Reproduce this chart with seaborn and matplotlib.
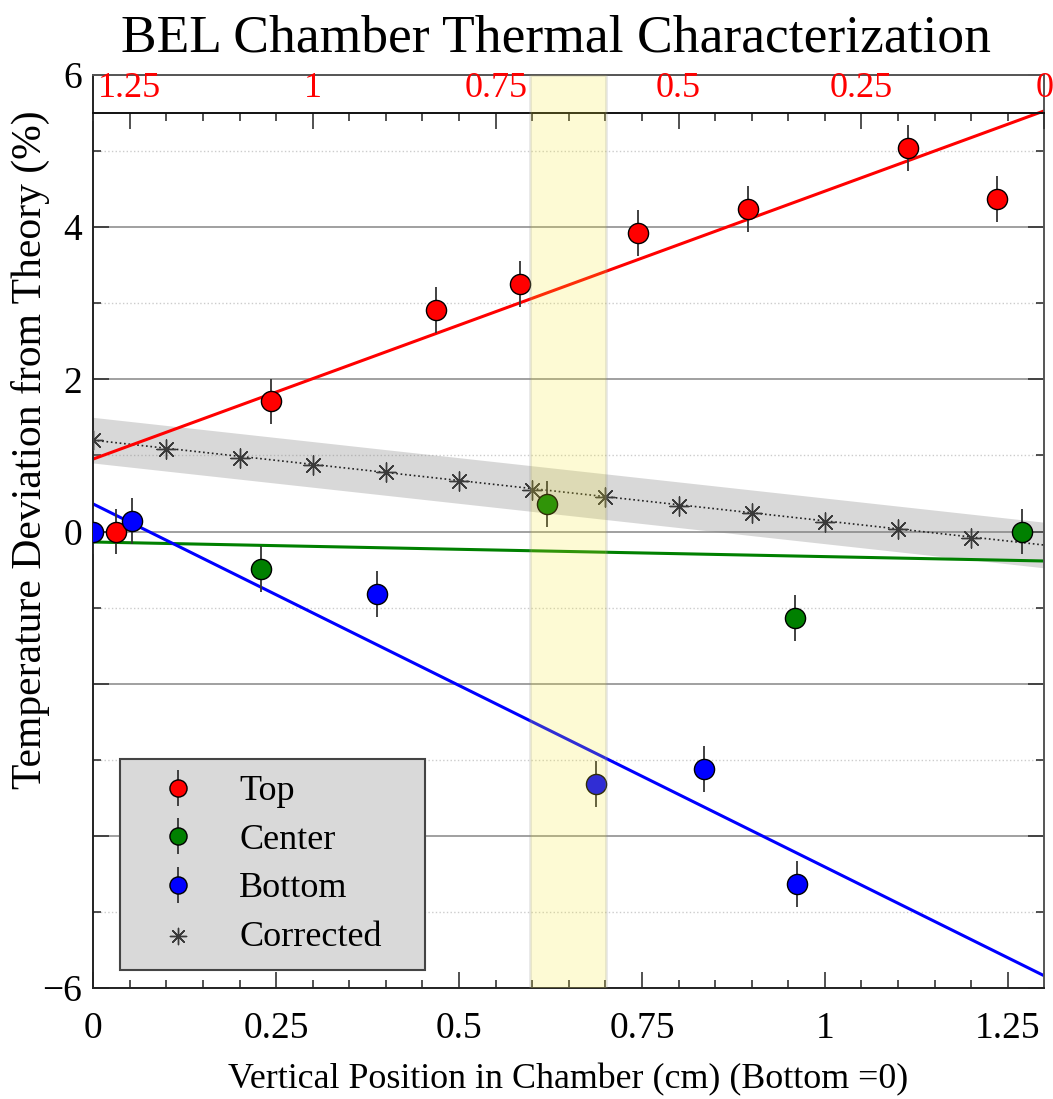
import numpy as np
import pandas as pd
import matplotlib
matplotlib.use("Agg")
import matplotlib.pyplot as plt
from matplotlib.ticker import MultipleLocator, FixedLocator
import seaborn as sns

# ---------------- data ----------------
top_x = [0.031, 0.243, 0.468, 0.583, 0.745, 0.895, 1.114, 1.235]
top_y = [0.00, 1.71, 2.91, 3.25, 3.92, 4.24, 5.04, 4.37]
top_err = [0.3, 0.3, 0.3, 0.3, 0.3, 0.3, 0.3, 0.3]

center_x = [0.229, 0.620, 0.959, 1.270]
center_y = [-0.49, 0.36, -1.14, 0.00]
center_err = [0.3, 0.3, 0.3, 0.3]

bottom_x = [0.000, 0.053, 0.388, 0.687, 0.835, 0.962]
bottom_y = [0.00, 0.14, -0.82, -3.32, -3.12, -4.63]
bottom_err = [0.3, 0.3, 0.3, 0.3, 0.3, 0.3]

corr_x = [0.0, 0.1, 0.2, 0.3, 0.4, 0.5, 0.6, 0.7, 0.8, 0.9, 1.0, 1.1, 1.2]
corr_y = [1.20, 1.09, 0.97, 0.88, 0.78, 0.66, 0.55, 0.46, 0.34, 0.24, 0.13, 0.03, -0.09]

# linear fits: (intercept, slope)
fit_top = (0.953, 3.52)
fit_center = (-0.138, -0.192)
fit_bottom = (0.361, -4.77)
fit_corr = (1.20, -1.06)
corr_band_half = 0.3

highlight = (0.597, 0.701)

x_lim = (0.0, 1.3)
y_lim = (-6.0, 6.0)
top_axis_level = 5.5

x_ticks = [0, 0.25, 0.5, 0.75, 1.0, 1.25]
x_tick_labels = ["0", "0.25", "0.5", "0.75", "1", "1.25"]
top_ticks = [1.25, 1.0, 0.75, 0.5, 0.25, 0.0]
top_tick_labels = ["1.25", "1", "0.75", "0.5", "0.25", "0"]
y_ticks = [-6, -4, -2, 0, 2, 4, 6]
y_tick_labels = ["\u22126", "", "", "0", "2", "4", "6"]

series_names = ["Top", "Center", "Bottom", "Corrected"]

# ---------------- style ----------------
sns.set_style("white")
plt.rcParams['font.family'] = ['Liberation Serif', 'DejaVu Serif']
plt.rcParams['text.color'] = 'black'

W, H = 1053, 1099
fig = plt.figure(figsize=(W / 100, H / 100), dpi=100)
ax = fig.add_axes([93.3 / W, 1 - 988 / H, 951 / W, 913 / H])
ax.set_xlim(*x_lim)
ax.set_ylim(*y_lim)

# grid
ax.set_axisbelow(True)
ax.yaxis.set_major_locator(FixedLocator(y_ticks))
ax.yaxis.set_minor_locator(MultipleLocator(1))
ax.set_yticklabels(y_tick_labels)
ax.grid(axis='y', which='major', color='#999999', lw=1.3, ls='-', zorder=0)
ax.grid(axis='y', which='minor', color='#cccccc', lw=1.0, ls=':', zorder=0)
ax.grid(axis='x', visible=False)

ax.xaxis.set_major_locator(FixedLocator(x_ticks))
ax.set_xticklabels(x_tick_labels)
ax.xaxis.set_minor_locator(MultipleLocator(0.05))

ax.tick_params(axis='both', which='both', direction='in', colors='#333333', width=1.2)
ax.tick_params(axis='both', which='major', length=11.5, labelsize=27, labelcolor='black')
ax.tick_params(axis='both', which='minor', length=6)
ax.tick_params(axis='y', which='both', left=True, right=True, pad=8)
ax.tick_params(axis='x', which='both', bottom=True, top=False, pad=17)

for s in ['left', 'bottom']:
    ax.spines[s].set_color('#222222')
    ax.spines[s].set_linewidth(1.4)
for s in ['top', 'right']:
    ax.spines[s].set_color('#555555')
    ax.spines[s].set_linewidth(1.4)

# corrected band & trend
xb = np.array(x_lim)
yb = fit_corr[0] + fit_corr[1] * xb
ax.fill_between(xb, yb - corr_band_half, yb + corr_band_half, color='gray', alpha=0.3,
                lw=0, zorder=1)
ax.axline((0, fit_corr[0]), slope=fit_corr[1], color='#222222', ls=':', lw=1.2, zorder=2)

# fit lines
ax.axline((0, fit_top[0]), slope=fit_top[1], color='#ff0000', lw=2.2, zorder=2)
ax.axline((0, fit_center[0]), slope=fit_center[1], color='#008000', lw=2.2, zorder=2)
ax.axline((0, fit_bottom[0]), slope=fit_bottom[1], color='#0000ff', lw=2.2, zorder=2)

# data points
ekw = dict(fmt='o', ms=14.5, mec='black', mew=1.0, ecolor='#333333', elinewidth=1.3,
           capsize=0, zorder=4)
h_top = ax.errorbar(top_x, top_y, yerr=top_err, mfc='#ff0000', label=series_names[0], **ekw)
h_cen = ax.errorbar(center_x, center_y, yerr=center_err, mfc='#008000', label=series_names[1], **ekw)
h_bot = ax.errorbar(bottom_x, bottom_y, yerr=bottom_err, mfc='#0000ff', label=series_names[2], **ekw)

corr_df = pd.DataFrame({"x": corr_x, "y": corr_y})
sns.scatterplot(data=corr_df, x="x", y="y", ax=ax, marker=(8, 2, 0), s=190,
                color='#3a3a3a', linewidths=1.0, zorder=3, label=series_names[3], legend=False)
h_corr = ax.collections[-1]

# highlight band (on top)
ax.axvspan(*highlight, facecolor=(0.96, 0.90, 0.16), alpha=0.2, edgecolor=(0.55, 0.55, 0.55, 0.5),
           lw=2, zorder=6)

ax.set_xlabel("")
ax.set_ylabel("")

# top (reversed) axis
ax_top = ax.inset_axes([x_lim[0], y_lim[0], x_lim[1] - x_lim[0], top_axis_level - y_lim[0]],
                       transform=ax.transData)
ax_top.patch.set_visible(False)
ax_top.set_xlim(x_lim[1], x_lim[0])
ax_top.set_ylim(0, 1)
for s in ['left', 'right', 'bottom']:
    ax_top.spines[s].set_visible(False)
ax_top.spines['top'].set_color('#111111')
ax_top.spines['top'].set_linewidth(1.4)
ax_top.xaxis.tick_top()
ax_top.xaxis.set_major_locator(FixedLocator(top_ticks))
ax_top.set_xticklabels(top_tick_labels)
ax_top.xaxis.set_minor_locator(MultipleLocator(0.05))
ax_top.set_yticks([])
ax_top.tick_params(axis='x', which='both', direction='in', colors='#333333', width=1.2,
                   top=True, bottom=False)
ax_top.tick_params(axis='x', which='major', length=11.5, labelsize=26, labelcolor='#ff0000', pad=6)
ax_top.tick_params(axis='x', which='minor', length=6)

# legend
leg = ax.legend([h_top, h_cen, h_bot, h_corr], series_names, loc='lower left',
                bbox_to_anchor=(0.028, 0.0197, 0.321, 0.235), mode='expand',
                frameon=True, fancybox=False, facecolor='#d9d9d9', edgecolor='#444444',
                framealpha=1, fontsize=26, handlelength=2.3, handletextpad=0.55,
                labelspacing=0.42, borderpad=0.45, borderaxespad=0, markerscale=0.85)
leg.get_frame().set_linewidth(1.5)
leg.set_zorder(10)

# titles / labels
fig.text(556 / W, 1 - 38 / H, "BEL Chamber Thermal Characterization", ha='center', va='center',
         fontsize=38.5)
fig.text(568 / W, 1 - 1080 / H, "Vertical Position in Chamber (cm) (Bottom =0)", ha='center',
         va='center', fontsize=25.8)
fig.text(30 / W, 1 - 450 / H, "Temperature Deviation from Theory (%)", ha='center', va='center',
         rotation=90, fontsize=30)

fig.savefig("out.png", dpi=100)
